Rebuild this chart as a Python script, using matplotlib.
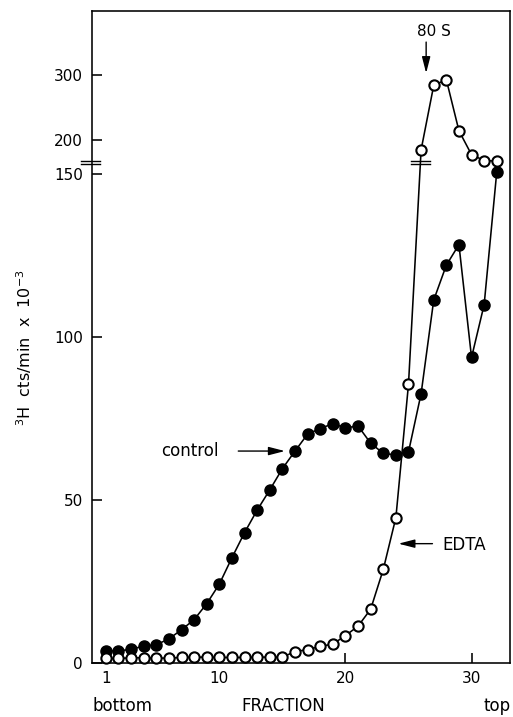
import numpy as np
import matplotlib
matplotlib.use("Agg")
import matplotlib.pyplot as plt
from matplotlib.transforms import blended_transform_factory, offset_copy

# ---------------- data ----------------
fractions = list(range(1, 33))
control = [3.7, 3.7, 4.2, 5.2, 5.6, 7.4, 10.2, 13.3, 18.2, 24.2, 32.3, 40.0,
           46.9, 53.1, 59.6, 65.0, 70.2, 71.9, 73.4, 72.1, 72.7, 67.4, 64.3,
           63.8, 64.7, 82.6, 111.3, 122.0, 128.3, 93.7, 109.9, 150.6]
edta = [1.4, 1.4, 1.6, 1.6, 1.5, 1.5, 1.7, 1.8, 1.8, 1.7, 1.7, 1.7, 1.8, 1.8,
        1.8, 3.5, 4.1, 5.1, 5.8, 8.4, 11.3, 16.5, 28.7, 44.6, 85.5, 184.5,
        284.0, 293.0, 214.0, 177.0, 168.0, 167.0]
xticks = [1, 10, 20, 30]
yticks = [0, 50, 100, 150, 200, 300]

# ---------------- broken y scale ----------------
V1, V2, R, EPS = 153.5, 165.0, 0.1985, 0.01


def fwd(v):
    v = np.asarray(v, dtype=float)
    return np.where(v <= V1, v,
                    np.where(v >= V2, V1 + EPS + (v - V2) * R,
                             V1 + (v - V1) * EPS / (V2 - V1)))


def inv(f):
    f = np.asarray(f, dtype=float)
    return np.where(f <= V1, f,
                    np.where(f >= V1 + EPS, V2 + (f - V1 - EPS) / R,
                             V1 + (f - V1) * (V2 - V1) / EPS))


plt.rcParams['font.family'] = ['DejaVu Sans']
fig = plt.figure(figsize=(5.13, 7.17), dpi=100)
ax = fig.add_axes([92 / 513, 1 - 663 / 717, (510 - 92) / 513, (663 - 11) / 717])
ax.set_yscale('function', functions=(fwd, inv))

lw = 1.15
ax.plot(fractions, control, '-', color='black', lw=lw, marker='o', ms=8.0,
        mfc='black', mec='black', zorder=3, clip_on=False)
ax.plot(fractions, edta, '-', color='black', lw=lw, marker='o', ms=7.4,
        mfc='white', mec='black', mew=1.5, zorder=4, clip_on=False)

ax.set_xlim(-0.1, 33.05)
ax.set_ylim(0, 399)
ax.set_xticks(xticks)
ax.set_xticklabels([str(t) for t in xticks])
ax.set_yticks(yticks)
ax.set_yticklabels([str(t) for t in yticks])
ax.yaxis.set_minor_locator(matplotlib.ticker.NullLocator())
ax.xaxis.set_minor_locator(matplotlib.ticker.NullLocator())
ax.tick_params(axis='both', direction='in', length=7, width=lw, labelsize=11,
               top=False, right=False)
ax.tick_params(axis='y', pad=6.5)
ax.tick_params(axis='x', pad=6)
for s in ax.spines.values():
    s.set_linewidth(lw)

# break marks on left spine
base = blended_transform_factory(ax.transAxes, ax.transData)
ybreak = float(inv(V1 + EPS / 2))
for dy in (-1.8, 1.8):
    t = offset_copy(base, fig=fig, x=0, y=dy, units='dots')
    ax.plot([-0.027, 0.019], [ybreak, ybreak], color='black', lw=1.0,
            transform=t, clip_on=False, zorder=5)

# break marks on the EDTA line where it crosses the break
i = next(k for k in range(len(edta) - 1) if edta[k] <= V1 < edta[k + 1] and edta[k + 1] >= V2)
f0, f1 = float(fwd(edta[i])), float(fwd(edta[i + 1]))
xc = fractions[i] + (V1 + EPS / 2 - f0) / (f1 - f0) * (fractions[i + 1] - fractions[i])
for dy in (-1.8, 1.8):
    t = offset_copy(ax.transData, fig=fig, x=0, y=dy, units='dots')
    ax.plot([xc - 0.75, xc + 0.75], [ybreak, ybreak], color='black', lw=1.0,
            transform=t, zorder=5)

# annotations
ap = dict(arrowstyle='-|>,head_length=0.7,head_width=0.18', color='black',
          lw=1.0, mutation_scale=14, shrinkA=0, shrinkB=0)
ax.annotate('', xy=(26.4, 303), xytext=(26.4, 351), arrowprops=ap)
ax.text(25.7, 368, '80 S', fontsize=11, ha='left', va='center')
ax.annotate('', xy=(15.2, 65.0), xytext=(11.5, 65.0), arrowprops=ap)
ax.text(5.4, 65.0, 'control', fontsize=12, ha='left', va='center')
ax.annotate('', xy=(24.2, 36.6), xytext=(26.9, 36.6), arrowprops=ap)
ax.text(27.7, 36.3, 'EDTA', fontsize=12, ha='left', va='center')

# labels
fig.text(24 / 513, 1 - 348 / 717, r'$^{3}$H  cts/min  x  10$^{-3}$',
         rotation=90, ha='center', va='center', fontsize=11.5)
ylab = 1 - 706 / 717
fig.text(93 / 513, ylab, 'bottom', fontsize=12, ha='left', va='center')
fig.text(283 / 513, ylab, 'FRACTION', fontsize=12, ha='center', va='center')
fig.text(484 / 513, ylab, 'top', fontsize=12, ha='left', va='center')

fig.savefig('out.png', dpi=100)
